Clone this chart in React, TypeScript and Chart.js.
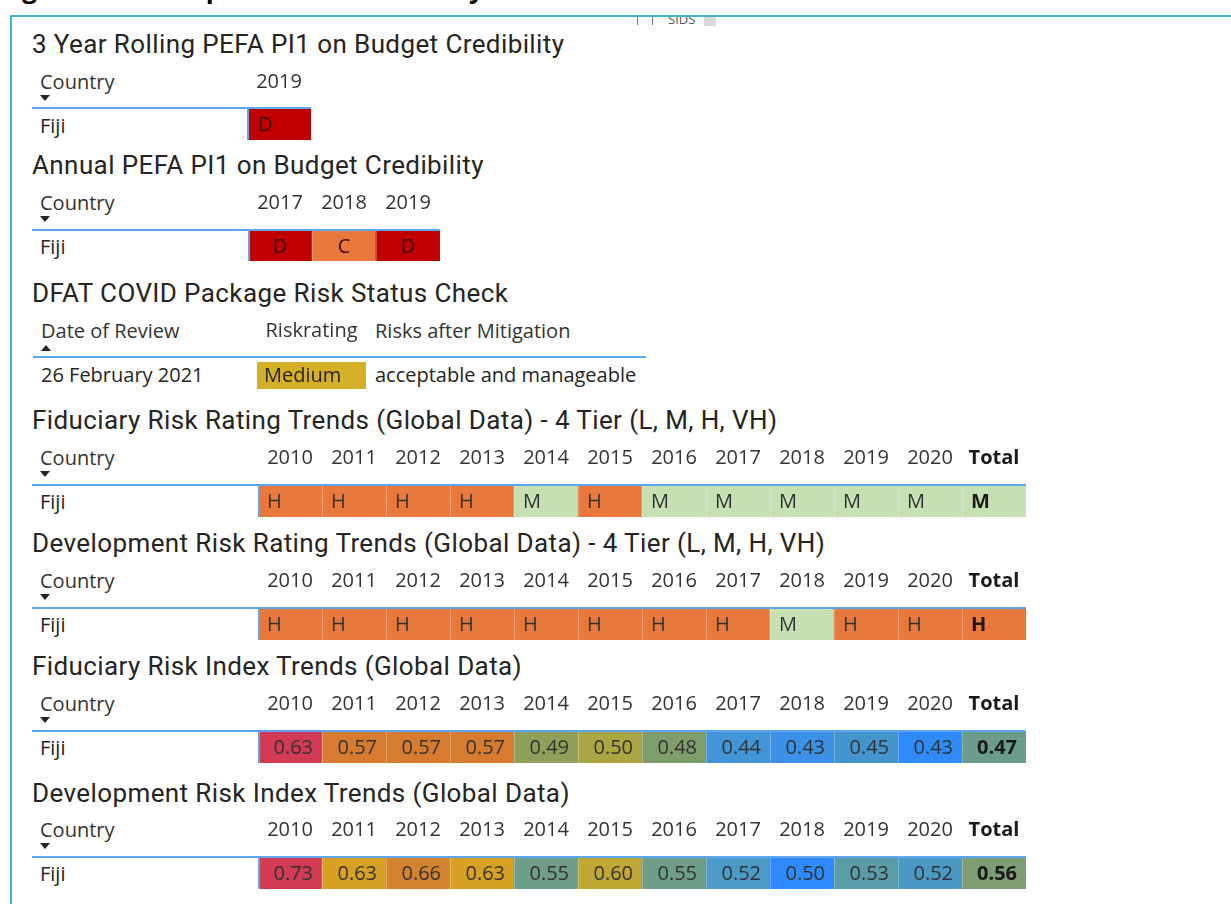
import React, { useEffect, useRef } from "react";
import { Chart, registerables } from "chart.js";

Chart.register(...registerables);

// ---------------- DATA ----------------
const countryName = "Fiji";

const rollingYears = ["2019"];
const rollingGrades = ["D"];

const annualYears = ["2017", "2018", "2019"];
const annualGrades = ["D", "C", "D"];

const covidHeaders = ["Date of Review", "Riskrating", "Risks after Mitigation"];
const covidReviewDate = "26 February 2021";
const covidRiskRating = ["Medium"];
const covidRiskAfterMitigation = "acceptable and manageable";

const trendYears = ["2010", "2011", "2012", "2013", "2014", "2015", "2016", "2017", "2018", "2019", "2020", "Total"];
const fiduciaryRatings = ["H", "H", "H", "H", "M", "H", "M", "M", "M", "M", "M", "M"];
const developmentRatings = ["H", "H", "H", "H", "H", "H", "H", "H", "M", "H", "H", "H"];
const fiduciaryIndex = [0.63, 0.57, 0.57, 0.57, 0.49, 0.5, 0.48, 0.44, 0.43, 0.45, 0.43, 0.47];
const developmentIndex = [0.73, 0.63, 0.66, 0.63, 0.55, 0.6, 0.55, 0.52, 0.5, 0.53, 0.52, 0.56];

// ---------------- STYLES ----------------
const gradeColors: Record<string, string> = { D: "#C00000", C: "#E8783B" };
const ratingColors: Record<string, string> = { H: "#E8783B", M: "#C6E0B4" };
const riskRatingColors: Record<string, string> = { Medium: "#D5AF28" };
const fiduciaryIndexColors = ["#D23A56", "#D67B30", "#D67B30", "#D67B30", "#8F9E58", "#A9A643", "#7E9C6C", "#4295D6", "#3C90E6", "#4494CE", "#2E8BF8", "#6B9C8B"];
const developmentIndexColors = ["#D33B55", "#D7A123", "#D4812E", "#D7A123", "#6D9E89", "#BFA833", "#6E9E89", "#4C9AC8", "#2E8BFF", "#5A9CA8", "#4B98C5", "#7E9D74"];

const BLUE = "#5EA6EE";
const FRAME = "#3FB3CB";
const INK = "#252423";
const TEXT_FONT = "'Open Sans', 'Noto Sans', sans-serif";
const TITLE_FONT = "Roboto, 'Noto Sans', sans-serif";

// ---------------- CELL PLUGIN ----------------
const cellTextPlugin = {
  id: "cellText",
  afterDatasetsDraw(chart: any, _args: any, opts: any) {
    const { ctx, chartArea } = chart;
    const meta = chart.getDatasetMeta(0);
    ctx.save();
    meta.data.forEach((bar: any, i: number) => {
      const p = bar.getProps(["x", "y", "base", "width"], true);
      const left = p.x - p.width / 2;
      const right = p.x + p.width / 2;
      const top = Math.min(p.y, p.base);
      const bottom = Math.max(p.y, p.base);
      if (i > 0) {
        ctx.fillStyle = "rgba(255,255,255,0.28)";
        ctx.fillRect(Math.round(left), top, 1, bottom - top);
      }
      const isBold = opts.boldLast && i === meta.data.length - 1;
      ctx.font = `${isBold ? "bold " : ""}20px ${TEXT_FONT}`;
      ctx.fillStyle = isBold ? "#1b1a19" : opts.color;
      ctx.textBaseline = "middle";
      let tx = p.x;
      if (opts.align === "left") {
        ctx.textAlign = "left";
        tx = left + opts.pad;
      } else if (opts.align === "right") {
        ctx.textAlign = "right";
        tx = right - opts.pad;
      } else {
        ctx.textAlign = "center";
      }
      ctx.fillText(opts.texts[i], tx, (top + bottom) / 2 + 1);
    });
    if (opts.leftBorder) {
      ctx.fillStyle = BLUE;
      ctx.fillRect(chartArea.left, chartArea.top, 2, chartArea.bottom - chartArea.top);
    }
    ctx.restore();
  },
};

type GridProps = {
  labels: string[];
  texts: string[];
  colors: string[];
  left: number;
  colW: number;
  headerY: number;
  cellTop: number;
  cellBottom: number;
  align: "left" | "center" | "right";
  pad: number;
  textColor: string;
  boldLast?: boolean;
  leftBorder?: boolean;
};

function CellGrid(props: GridProps) {
  const ref = useRef<HTMLCanvasElement>(null);
  const width = props.labels.length * props.colW;
  const canvasTop = props.headerY - 22;
  const axisH = props.cellTop - canvasTop;
  const height = props.cellBottom - canvasTop;
  const tickPad = props.cellTop - props.headerY - 12;

  useEffect(() => {
    const canvas = ref.current!;
    const chart = new Chart(canvas, {
      type: "bar",
      data: {
        labels: props.labels,
        datasets: [
          {
            data: props.texts.map(() => 1),
            backgroundColor: props.colors,
            borderWidth: 0,
            barPercentage: 1,
            categoryPercentage: 1,
          },
        ],
      },
      options: {
        animation: false,
        responsive: false,
        maintainAspectRatio: false,
        events: [],
        layout: { padding: 0 },
        plugins: {
          legend: { display: false },
          tooltip: { enabled: false },
          // @ts-ignore
          cellText: {
            texts: props.texts,
            align: props.align,
            pad: props.pad,
            color: props.textColor,
            boldLast: props.boldLast,
            leftBorder: props.leftBorder,
          },
        },
        scales: {
          x: {
            type: "category",
            position: "top",
            offset: true,
            grid: { display: false, drawTicks: false },
            border: { display: false },
            ticks: {
              autoSkip: false,
              maxRotation: 0,
              padding: tickPad,
              color: (c: any) => (c.tick && c.tick.label === "Total" ? "#1b1a19" : "#333333"),
              font: (c: any) => ({
                family: TEXT_FONT,
                size: 20,
                weight: c.tick && c.tick.label === "Total" ? "bold" : "normal",
              }),
            },
            afterFit: (scale: any) => {
              scale.height = axisH;
              scale.paddingLeft = 0;
              scale.paddingRight = 0;
            },
          },
          y: { type: "linear", display: false, min: 0, max: 1 },
        },
      },
      plugins: [cellTextPlugin],
    } as any);
    return () => chart.destroy();
  }, []);

  return (
    <canvas
      ref={ref}
      width={width}
      height={height}
      style={{ position: "absolute", left: props.left, top: canvasTop, width, height }}
    />
  );
}

// ---------------- HTML HELPERS ----------------
function Txt(p: { x: number; cy: number; text: string; size?: number; font?: string; color?: string; weight?: string | number; spacing?: number }) {
  const size = p.size || 20;
  const lh = Math.round(size * 1.4);
  return (
    <div
      style={{
        position: "absolute",
        left: p.x,
        top: p.cy - lh / 2,
        height: lh,
        lineHeight: `${lh}px`,
        fontSize: size,
        fontFamily: p.font || TEXT_FONT,
        color: p.color || INK,
        fontWeight: p.weight || "normal",
        letterSpacing: p.spacing || 0,
        whiteSpace: "nowrap",
      }}
    >
      {p.text}
    </div>
  );
}

function Title(p: { cy: number; text: string }) {
  return <Txt x={32} cy={p.cy} text={p.text} size={26} font={TITLE_FONT} color={INK} spacing={0.4} />;
}

function HLine(p: { x1: number; x2: number; y: number }) {
  return <div style={{ position: "absolute", left: p.x1, top: p.y - 1, width: p.x2 - p.x1, height: 2, background: BLUE }} />;
}

function Arrow(p: { x: number; y: number; up?: boolean }) {
  const s: any = {
    position: "absolute",
    left: p.x,
    top: p.y,
    width: 0,
    height: 0,
    borderLeft: "5px solid transparent",
    borderRight: "5px solid transparent",
  };
  if (p.up) s.borderBottom = `6px solid ${INK}`;
  else s.borderTop = `6px solid ${INK}`;
  return <div style={s} />;
}

function CountryHeader(p: { headerY: number; rowY: number }) {
  return (
    <>
      <Txt x={40} cy={p.headerY} text="Country" color="#333333" />
      <Arrow x={40} y={p.headerY + 13} />
      <Txt x={40} cy={p.rowY} text={countryName} />
    </>
  );
}

export default function App() {
  const fmt = (v: number) => v.toFixed(2);
  return (
    <div
      style={{
        position: "absolute",
        left: 0,
        top: 0,
        width: 1231,
        height: 904,
        overflow: "hidden",
        background: "#ffffff",
      }}
    >
      {/* cut-off page heading */}
      <div
        style={{
          position: "absolute",
          left: 0,
          top: -26,
          fontFamily: TEXT_FONT,
          fontWeight: "bold",
          fontSize: 26,
          lineHeight: "28px",
          color: "#000",
          whiteSpace: "nowrap",
        }}
      >
        Figure 4: Development Risk Summary
      </div>

      {/* frame */}
      <div style={{ position: "absolute", left: 10, top: 15, width: 1221, height: 2, background: FRAME }} />
      <div style={{ position: "absolute", left: 10, top: 15, width: 2, height: 889, background: FRAME }} />

      {/* SIDS slicer remnant */}
      <div style={{ position: "absolute", left: 637, top: 17, width: 1, height: 8, background: "#777" }} />
      <div style={{ position: "absolute", left: 652, top: 17, width: 1, height: 8, background: "#777" }} />
      <div style={{ position: "absolute", left: 668, top: 17, height: 10, overflow: "hidden" }}>
        <div style={{ marginTop: -5, fontFamily: TEXT_FONT, fontSize: 13, lineHeight: "15px", color: "#555" }}>SIDS</div>
      </div>
      <div style={{ position: "absolute", left: 704, top: 17, width: 12, height: 9, background: "#D9D9D9" }} />

      {/* Table 1 */}
      <Title cy={44} text="3 Year Rolling PEFA PI1 on Budget Credibility" />
      <CountryHeader headerY={82} rowY={126} />
      <HLine x1={32} x2={311} y={108} />
      <CellGrid
        labels={rollingYears}
        texts={rollingGrades}
        colors={rollingGrades.map((g) => gradeColors[g])}
        left={247}
        colW={64}
        headerY={82}
        cellTop={109}
        cellBottom={140}
        align="left"
        pad={11}
        textColor="#3a0c0c"
        leftBorder
      />

      {/* Table 2 */}
      <Title cy={165} text="Annual PEFA PI1 on Budget Credibility" />
      <CountryHeader headerY={203} rowY={247} />
      <HLine x1={32} x2={440} y={230} />
      <CellGrid
        labels={annualYears}
        texts={annualGrades}
        colors={annualGrades.map((g) => gradeColors[g])}
        left={248}
        colW={64}
        headerY={203}
        cellTop={231}
        cellBottom={261}
        align="center"
        pad={0}
        textColor="#3a0c0c"
        leftBorder
      />

      {/* Table 3 */}
      <Title cy={293} text="DFAT COVID Package Risk Status Check" />
      <Txt x={41} cy={331} text={covidHeaders[0]} color="#333333" />
      <Arrow x={41} y={345} up />
      <Txt x={375} cy={331} text={covidHeaders[2]} color="#333333" />
      <HLine x1={33} x2={646} y={357} />
      <Txt x={41} cy={375} text={covidReviewDate} />
      <CellGrid
        labels={[covidHeaders[1]]}
        texts={covidRiskRating}
        colors={covidRiskRating.map((r) => riskRatingColors[r])}
        left={257}
        colW={109}
        headerY={331}
        cellTop={362}
        cellBottom={389}
        align="left"
        pad={7}
        textColor={INK}
      />
      <Txt x={375} cy={375} text={covidRiskAfterMitigation} />

      {/* Table 4 */}
      <Title cy={420} text="Fiduciary Risk Rating Trends (Global Data) - 4 Tier (L, M, H, VH)" />
      <CountryHeader headerY={458} rowY={502} />
      <HLine x1={32} x2={1026} y={485} />
      <CellGrid
        labels={trendYears}
        texts={fiduciaryRatings}
        colors={fiduciaryRatings.map((r) => ratingColors[r])}
        left={258}
        colW={64}
        headerY={458}
        cellTop={486}
        cellBottom={517}
        align="left"
        pad={9}
        textColor="#333333"
        boldLast
        leftBorder
      />

      {/* Table 5 */}
      <Title cy={543} text="Development Risk Rating Trends (Global Data) - 4 Tier (L, M, H, VH)" />
      <CountryHeader headerY={581} rowY={625} />
      <HLine x1={32} x2={1026} y={608} />
      <CellGrid
        labels={trendYears}
        texts={developmentRatings}
        colors={developmentRatings.map((r) => ratingColors[r])}
        left={258}
        colW={64}
        headerY={581}
        cellTop={609}
        cellBottom={640}
        align="left"
        pad={9}
        textColor="#333333"
        boldLast
        leftBorder
      />

      {/* Table 6 */}
      <Title cy={666} text="Fiduciary Risk Index Trends (Global Data)" />
      <CountryHeader headerY={704} rowY={748} />
      <HLine x1={32} x2={1026} y={731} />
      <CellGrid
        labels={trendYears}
        texts={fiduciaryIndex.map(fmt)}
        colors={fiduciaryIndexColors}
        left={258}
        colW={64}
        headerY={704}
        cellTop={732}
        cellBottom={763}
        align="right"
        pad={9}
        textColor="#333333"
        boldLast
        leftBorder
      />

      {/* Table 7 */}
      <Title cy={793} text="Development Risk Index Trends (Global Data)" />
      <CountryHeader headerY={830} rowY={874} />
      <HLine x1={32} x2={1026} y={857} />
      <CellGrid
        labels={trendYears}
        texts={developmentIndex.map(fmt)}
        colors={developmentIndexColors}
        left={258}
        colW={64}
        headerY={830}
        cellTop={858}
        cellBottom={889}
        align="right"
        pad={9}
        textColor="#333333"
        boldLast
        leftBorder
      />
    </div>
  );
}
